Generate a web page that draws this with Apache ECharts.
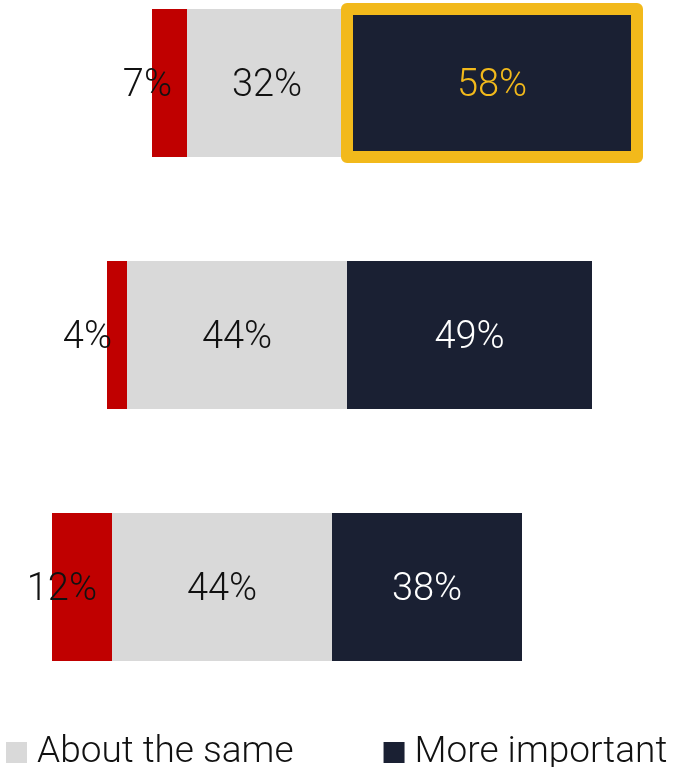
<!DOCTYPE html>
<html>
<head>
<meta charset="utf-8">
<style>
  html, body { margin: 0; padding: 0; background: #ffffff; }
  #chart { width: 679px; height: 767px; }
</style>
<script src="https://cdn.jsdelivr.net/npm/echarts@6/dist/echarts.min.js"></script>
</head>
<body>
<div id="chart"></div>
<script>
// ---- data ----
const categories = ['Group A', 'Group B', 'Group C'];
const leadIn = [30, 21, 10];            // invisible spacer before each bar
const lessImportant = [7, 4, 12];
const aboutTheSame = [32, 44, 44];
const moreImportant = [58, 49, 38];
const highlightIndex = 0;

const RED = '#C00000', GREY = '#D9D9D9', NAVY = '#1A2033', GOLD = '#F2B91B';
const FONT = 'Roboto';
const BAR_W = 148;

const chart = echarts.init(document.getElementById('chart'));

const baseLabel = {
  show: true,
  fontFamily: FONT,
  fontWeight: 300,
  fontSize: 38,
  offset: [0, 3],
  formatter: p => p.value + '%'
};

// highlight frame computed from the stacked values
const hlStart = leadIn[highlightIndex] + lessImportant[highlightIndex] + aboutTheSame[highlightIndex];
const hlEnd = hlStart + moreImportant[highlightIndex];

chart.setOption({
  animation: false,
  textStyle: { fontFamily: FONT, fontWeight: 300 },
  grid: { left: 2, right: 2, top: 83, bottom: 180, containLabel: false },
  xAxis: { type: 'value', min: 0, max: 135, show: false },
  yAxis: {
    type: 'category', data: categories, inverse: true, boundaryGap: false, show: false
  },
  legend: {
    data: ['About the same', 'More important'],
    left: 6, top: 734, padding: 0,
    icon: 'rect', itemWidth: 21, itemHeight: 21, itemGap: 90,
    textStyle: { fontFamily: FONT, fontWeight: 300, fontSize: 37, color: '#111111', padding: [10, 0, 0, 5] },
    selectedMode: false
  },
  series: [
    {
      name: 'spacer', type: 'bar', stack: 't', barWidth: BAR_W, silent: true,
      itemStyle: { color: 'transparent' }, data: leadIn
    },
    {
      name: 'Less important', type: 'bar', stack: 't', barWidth: BAR_W,
      itemStyle: { color: RED },
      label: Object.assign({}, baseLabel, { position: 'insideRight', distance: 15, color: '#111111' }),
      data: lessImportant
    },
    {
      name: 'About the same', type: 'bar', stack: 't', barWidth: BAR_W,
      itemStyle: { color: GREY },
      label: Object.assign({}, baseLabel, { position: 'inside', color: '#111111' }),
      data: aboutTheSame
    },
    {
      name: 'More important', type: 'bar', stack: 't', barWidth: BAR_W,
      itemStyle: { color: NAVY },
      label: Object.assign({}, baseLabel, { position: 'inside', color: '#ffffff' }),
      data: moreImportant.map((v, i) => i === highlightIndex ? { value: v, label: { color: GOLD } } : v),
      z: 3
    },
    {
      name: 'highlight', type: 'custom', silent: true, z: 4,
      data: [[hlStart, hlEnd, highlightIndex]],
      encode: { x: [0, 1], y: 2 },
      renderItem: function (params, api) {
        const p0 = api.coord([api.value(0), api.value(2)]);
        const p1 = api.coord([api.value(1), api.value(2)]);
        return {
          type: 'rect',
          shape: { x: p0[0], y: p0[1] - BAR_W / 2, width: p1[0] - p0[0], height: BAR_W },
          style: { fill: 'none', stroke: GOLD, lineWidth: 12, lineJoin: 'round' }
        };
      }
    }
  ]
});
</script>
</body>
</html>
